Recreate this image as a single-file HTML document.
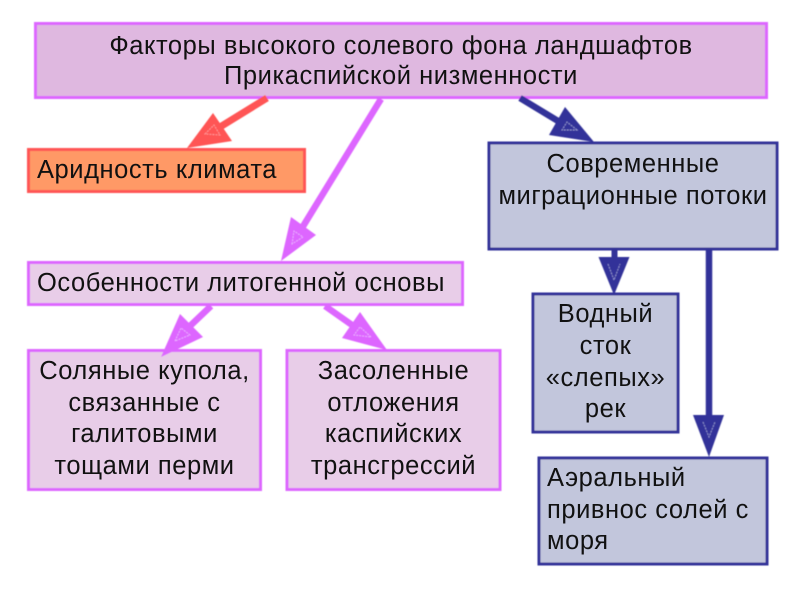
<!DOCTYPE html>
<html><head><meta charset="utf-8">
<style>
html,body{margin:0;padding:0;background:#fff;width:800px;height:600px;overflow:hidden}
svg{display:block;position:absolute;left:0;top:0}
text{font-family:"Liberation Sans",sans-serif;font-size:25.5px;letter-spacing:0.55px;fill:#111}
.c{text-anchor:middle}
</style></head><body>
<svg width="800" height="600" viewBox="0 0 800 600" xmlns="http://www.w3.org/2000/svg">
<defs><filter id="b" x="-2%" y="-2%" width="104%" height="104%"><feGaussianBlur stdDeviation="0.45"/></filter></defs>
<g filter="url(#b)">
<rect x="35.5" y="23.5" width="731" height="74" fill="#DFB8E0" stroke="#DD66FF" stroke-width="3"/>
<rect x="28.5" y="149.5" width="276" height="42" fill="#FF9966" stroke="#FF5555" stroke-width="3"/>
<rect x="28.5" y="262.5" width="434" height="42" fill="#E8CDE8" stroke="#DD66FF" stroke-width="3"/>
<rect x="28.5" y="350.5" width="232" height="139" fill="#E8CDE8" stroke="#DD66FF" stroke-width="3"/>
<rect x="287" y="350.5" width="213" height="139" fill="#E8CDE8" stroke="#DD66FF" stroke-width="3"/>
<rect x="489" y="143" width="288" height="106" fill="#C2C6DC" stroke="#333399" stroke-width="3"/>
<rect x="533" y="294" width="145" height="138" fill="#C2C6DC" stroke="#333399" stroke-width="3"/>
<rect x="539" y="458" width="228" height="106" fill="#C2C6DC" stroke="#333399" stroke-width="3"/>

<line x1="267" y1="98" x2="220" y2="127" stroke="#FF5555" stroke-width="7"/>
<polygon points="187,148 213,113 232,141" fill="#FF5555"/>
<polygon points="205,134 214,125 220,135" fill="none" stroke="#FFB0B0" stroke-width="0.9" stroke-dasharray="2 1" opacity="0.8"/>

<line x1="381" y1="99" x2="302" y2="228" stroke="#DD66FF" stroke-width="6.5"/>
<polygon points="281,261 291,217 316,235" fill="#DD66FF"/>
<polygon points="292,244 294,231 303,237" fill="none" stroke="#F0C8FF" stroke-width="0.9" stroke-dasharray="2 1" opacity="0.8"/>

<line x1="520" y1="98" x2="558" y2="121" stroke="#333399" stroke-width="6.5"/>
<polygon points="594,142 565,107 549,135" fill="#333399"/>
<polygon points="577,130 567,122 562,130" fill="none" stroke="#B0B4E0" stroke-width="0.9" stroke-dasharray="2 1" opacity="0.8"/>

<line x1="614.5" y1="250" x2="614.5" y2="258" stroke="#333399" stroke-width="6"/>
<polygon points="614,295 598.5,257 629.5,257" fill="#333399"/>
<polyline points="608,264 614,280 620,264" fill="none" stroke="#B0B4E0" stroke-width="0.9" stroke-dasharray="2 1" opacity="0.8"/>

<line x1="709" y1="250" x2="709" y2="416" stroke="#333399" stroke-width="6.5"/>
<polygon points="709,457 693,415 724,415" fill="#333399"/>
<polyline points="703,422 709,437 715,422" fill="none" stroke="#B0B4E0" stroke-width="0.9" stroke-dasharray="2 1" opacity="0.8"/>

<line x1="211" y1="306" x2="190" y2="326" stroke="#DD66FF" stroke-width="6.5"/>
<polygon points="161,357 180,314 203,337" fill="#DD66FF"/>
<polygon points="175,341 181,328 190,335" fill="none" stroke="#F0C8FF" stroke-width="0.9" stroke-dasharray="2 1" opacity="0.8"/>

<line x1="325" y1="306" x2="352" y2="325" stroke="#DD66FF" stroke-width="6.5"/>
<polygon points="387,350 360,312 342,338" fill="#DD66FF"/>
<polygon points="371,337 360,327 354,335" fill="none" stroke="#F0C8FF" stroke-width="0.9" stroke-dasharray="2 1" opacity="0.8"/>
</g>

<g style="filter:blur(0.35px)">
<text class="c" x="401" y="54">Факторы высокого солевого фона ландшафтов</text>
<text class="c" x="401" y="84">Прикаспийской низменности</text>
<text x="37" y="178">Аридность климата</text>
<text x="37" y="291">Особенности литогенной основы</text>
<text class="c" x="144.5" y="379">Соляные купола,</text>
<text class="c" x="144.5" y="411">связанные с</text>
<text class="c" x="144.5" y="442">галитовыми</text>
<text class="c" x="144.5" y="474">тощами перми</text>
<text class="c" x="393.5" y="379">Засоленные</text>
<text class="c" x="393.5" y="411">отложения</text>
<text class="c" x="393.5" y="442">каспийских</text>
<text class="c" x="393.5" y="474">трансгрессий</text>
<text class="c" x="633" y="172">Современные</text>
<text class="c" x="633" y="204">миграционные потоки</text>
<text class="c" x="605.5" y="322">Водный</text>
<text class="c" x="605.5" y="354">сток</text>
<text class="c" x="605.5" y="386">«слепых»</text>
<text class="c" x="605.5" y="417">рек</text>
<text x="547" y="486">Аэральный</text>
<text x="547" y="518">привнос солей с</text>
<text x="547" y="549">моря</text>
</g>
</svg>
</body></html>
